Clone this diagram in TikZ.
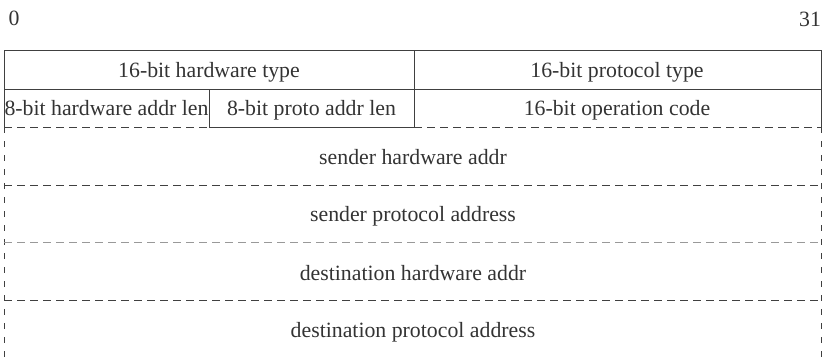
\documentclass[tikz,border=0pt]{standalone}
\usepackage{fontspec}
\setmainfont{Liberation Serif}
\begin{document}
\begin{tikzpicture}[x=1pt,y=-1pt,
  lbl/.style={anchor=base,inner sep=0pt,text=black!80,font=\fontsize{21.8}{24}\selectfont},
  solidline/.style={draw=black!75,line width=1pt},
  dashh/.style={draw=black!75,line width=1pt,dash pattern=on 8pt off 5pt},
  dashlight/.style={draw=black!40,line width=0.8pt,dash pattern=on 8pt off 5pt},
  dashv/.style={draw=black!75,line width=1pt,dash pattern=on 6pt off 8pt}]
\useasboundingbox (0,0) rectangle (828,357);
% grid coordinates
\coordinate (TL) at (4,50);   \coordinate (TR) at (821,50);
\coordinate (TM) at (414,50);
\coordinate (R1L) at (4,89);  \coordinate (R1R) at (821,89);
\coordinate (R1S) at (209,89);
\coordinate (R2L) at (4,127); \coordinate (R2R) at (821,127);
\coordinate (R2S) at (209,127); \coordinate (R2M) at (414,127);
\coordinate (R3L) at (4,185); \coordinate (R3R) at (821,185);
\coordinate (R4L) at (4,242); \coordinate (R4R) at (821,242);
\coordinate (R5L) at (4,300); \coordinate (R5R) at (821,300);
\coordinate (BL) at (4,357);  \coordinate (BR) at (821,357);
% solid part
\draw[solidline] (TL) -- (TR);
\draw[solidline] (R1L) -- (R1R);
\draw[solidline] (TL) -- (R2L);
\draw[solidline] (TR) -- (R2R);
\draw[solidline] (TM) -- (R2M);
\draw[solidline] (R1S) -- (R2S);
\draw[solidline] (R2S) -- (R2M);
% dashed part
\draw[dashh] (R2L) -- (R2S);
\draw[dashh] (R2M) -- (R2R);
\draw[dashv] (R2L) -- (BL);
\draw[dashv] (R2R) -- (BR);
\draw[dashh] (R3L) -- (R3R);
\draw[dashlight] (R4L) -- (R4R);
\draw[dashh] (R5L) -- (R5R);
% labels
\node[lbl] (b0) at (14,25) {0};
\node[lbl] (b31) at (810,26) {31};
\node[lbl] (hwtype) at (209,77) {16-bit hardware type};
\node[lbl] (prtype) at (617,77) {16-bit protocol type};
\node[lbl] (hwlen) at (106.5,115) {8-bit hardware addr len};
\node[lbl] (prlen) at (311.5,115) {8-bit proto addr len};
\node[lbl] (opcode) at (617,115) {16-bit operation code};
\node[lbl] (sha) at (413,164) {sender hardware addr};
\node[lbl] (spa) at (413,221.5) {sender protocol address};
\node[lbl] (dha) at (413,280) {destination hardware addr};
\node[lbl] (dpa) at (413,337) {destination protocol address};
\end{tikzpicture}
\end{document}
